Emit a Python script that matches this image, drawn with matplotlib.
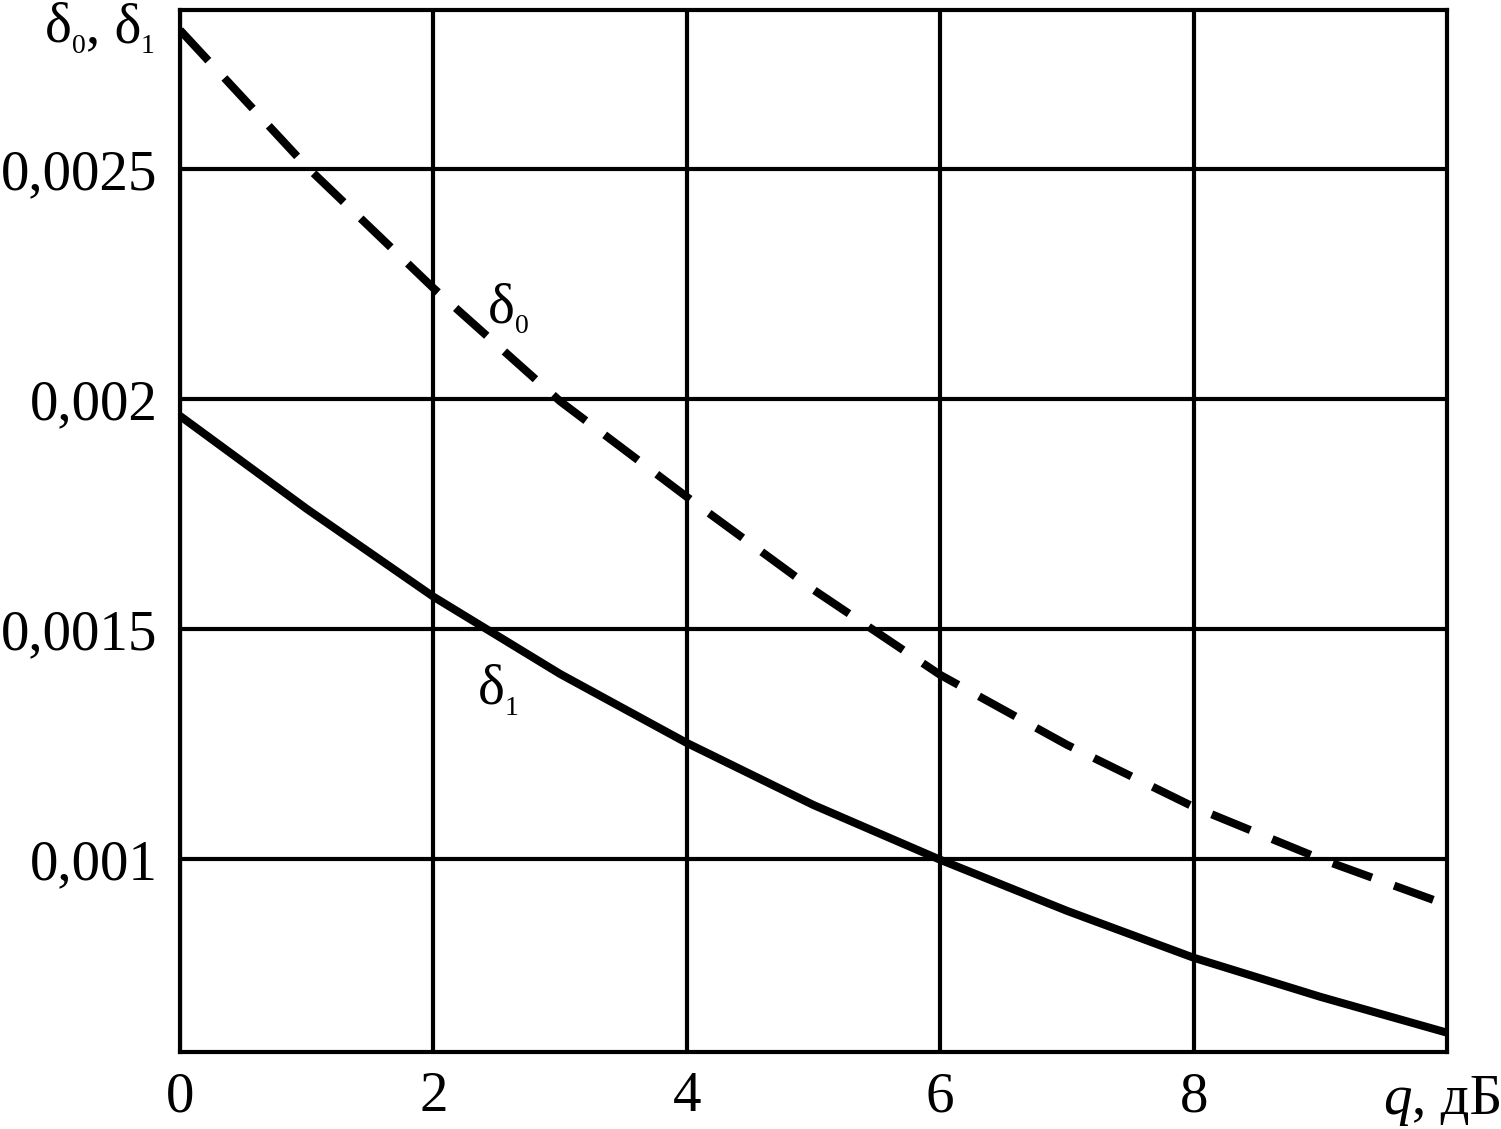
import matplotlib
matplotlib.use("Agg")
import matplotlib.pyplot as plt
import matplotlib.transforms as mtransforms

# ---- data ----
q = [0, 1, 2, 3, 4, 5, 6, 7, 8, 9, 10]
delta0 = [0.002802, 0.002505, 0.002241, 0.001995, 0.001787, 0.001585,
          0.001400, 0.001248, 0.001113, 0.001000, 0.000900]
delta1 = [0.001963, 0.001761, 0.001570, 0.001402, 0.001252, 0.001117,
          0.000998, 0.000887, 0.000785, 0.000700, 0.000622]
x_ticks = [0, 2, 4, 6, 8]
x_tick_labels = ["0", "2", "4", "6", "8"]
y_ticks = [0.001, 0.0015, 0.002, 0.0025]
y_tick_labels = ["0,001", "0,0015", "0,002", "0,0025"]

plt.rcParams["font.family"] = ["Liberation Serif", "DejaVu Serif"]
plt.rcParams["lines.scale_dashes"] = False

W, H = 1501, 1129
fig = plt.figure(figsize=(W / 100, H / 100), dpi=100)
ax = fig.add_axes([180 / W, 77 / H, (1447 - 180) / W, (1052 - 10) / H])
ax.set_xlim(0, 10)
ax.set_ylim(0.00058, 0.0028457)

ax.set_xticks(x_ticks, x_tick_labels)
ax.set_yticks(y_ticks, y_tick_labels)
ax.tick_params(axis="both", length=0, labelsize=41, colors="black")
ax.tick_params(axis="x", pad=14)
ax.tick_params(axis="y", pad=16)
ax.grid(True, color="black", linewidth=3)
ax.set_axisbelow(True)
for sp in ax.spines.values():
    sp.set_linewidth(3)
    sp.set_color("black")

ax.plot(q, delta0, color="black", linewidth=5.8, linestyle=(0, (30, 17)),
        dash_joinstyle="round")
ax.plot(q, delta1, color="black", linewidth=5.8, solid_joinstyle="round",
        solid_capstyle="butt")

renderer = fig.canvas.get_renderer()


def seq_text(x, y, transform, segments):
    dx = 0.0
    for s, size, dy, style in segments:
        tr = mtransforms.offset_copy(transform, fig=fig, x=dx, y=dy, units="points")
        t = fig.text(x, y, s, transform=tr, fontsize=size, va="baseline",
                     ha="left", style=style, color="black")
        dx += t.get_window_extent(renderer).width * 72 / fig.dpi


# top-left axis label
seq_text(45 / W, 1 - 42 / H, fig.transFigure,
         [("δ", 41, 0, "normal"), ("0", 20, -8, "normal"),
          (", δ", 41, 0, "normal"), ("1", 20, -8, "normal")])

# x axis label
seq_text(1383 / W, 1 - 1114 / H, fig.transFigure,
         [("q", 41, 0, "italic"), (", дБ", 41, 0, "normal")])

# curve labels
seq_text(2.43, 0.002167, ax.transData,
         [("δ", 41, 0, "normal"), ("0", 20, -8, "normal")])
seq_text(2.35, 0.001337, ax.transData,
         [("δ", 41, 0, "normal"), ("1", 20, -8, "normal")])

fig.savefig("out.png", dpi=100, facecolor="white")
